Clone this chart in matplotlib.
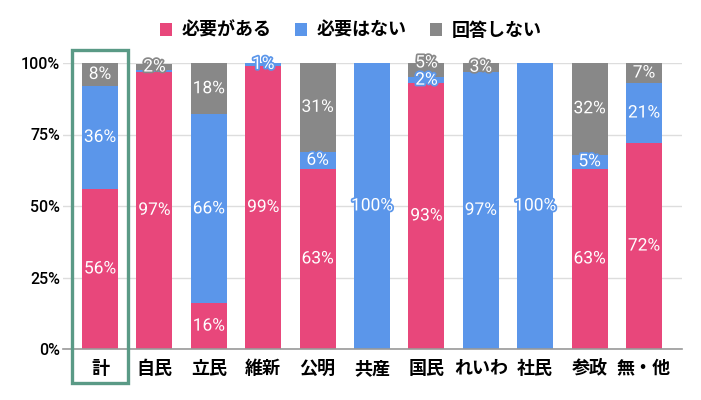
import numpy as np
import matplotlib
matplotlib.use("Agg")
import matplotlib.pyplot as plt
import matplotlib.patheffects as pe
from matplotlib.patches import Rectangle

plt.rcParams['font.family'] = ['Noto Sans CJK JP', 'DejaVu Sans']

# データ
parties = ['計', '自民', '立民', '維新', '公明', '共産', '国民', 'れいわ', '社民', '参政', '無・他']
need = [56, 97, 16, 99, 63, 0, 93, 0, 0, 63, 72]
no_need = [36, 0.6, 66, 1, 6, 100, 2, 97, 100, 5, 21]
no_answer = [8, 2, 18, 0, 31, 0, 5, 3, 0, 32, 7]
series_names = ['必要がある', '必要はない', '回答しない']
colors = ['#E8477B', '#5B96EA', '#888888']
yticks = [0, 25, 50, 75, 100]

fig = plt.figure(figsize=(7.01, 4.0), dpi=100)
ax = fig.add_axes([0.0899, 0.1275, 0.8831, 0.715])

x = np.arange(len(parties))
bottom = np.zeros(len(parties))
last_y = np.full(len(parties), -100.0)
handles = []
for vals, name, col in zip([need, no_need, no_answer], series_names, colors):
    vals = np.array(vals, dtype=float)
    b = ax.bar(x, vals, 0.66, bottom=bottom, color=col, label=name, zorder=2)
    handles.append(b)
    for i, (xi, v, b0) in enumerate(zip(x, vals, bottom)):
        if v >= 1:
            ty = b0 + v / 2
            # 重なり回避
            if ty - last_y[i] < 6:
                ty = last_y[i] + 6
            last_y[i] = ty
            ax.text(xi, ty, '%d%%' % round(v), ha='center', va='center',
                    color='white', fontsize=12.5, family=['Roboto', 'DejaVu Sans'],
                    zorder=4,
                    path_effects=[pe.withStroke(linewidth=2.5, foreground=col)])
    bottom = bottom + vals

ax.set_xlim(-0.68, 10.70)
ax.set_ylim(0, 100)
ax.set_yticks(yticks)
ax.set_yticklabels(['%d%%' % t for t in yticks], fontsize=11.5,
                   family=['Roboto', 'DejaVu Sans'], fontweight='medium')
ax.set_xticks(x)
ax.set_xticklabels(parties, fontsize=13, fontweight='bold')
ax.tick_params(length=0)
ax.tick_params(axis='y', pad=2)
ax.tick_params(axis='x', pad=7)
ax.yaxis.grid(True, color='#dddddd', linewidth=1, zorder=0)
ax.set_axisbelow(True)
for s in ['top', 'right', 'left']:
    ax.spines[s].set_visible(False)
ax.spines['bottom'].set_color('#999999')
ax.spines['bottom'].set_linewidth(1.2)
ax.spines['bottom'].set_zorder(3)

# 計 の枠
box = Rectangle((72 / 701, 1 - 383 / 400), 56 / 701, 333 / 400,
                transform=fig.transFigure, fill=False, edgecolor='#5A9A86',
                linewidth=2.4, zorder=5)
fig.patches.append(box)

fig.legend(handles=handles, labels=series_names, loc='center',
           bbox_to_anchor=(0.5, 1 - 30 / 400), ncol=3, frameon=False,
           handlelength=0.7, handleheight=0.7,
           handletextpad=0.5, columnspacing=1.3,
           prop={'weight': 'bold', 'size': 13})

fig.savefig('out.png', dpi=100)
